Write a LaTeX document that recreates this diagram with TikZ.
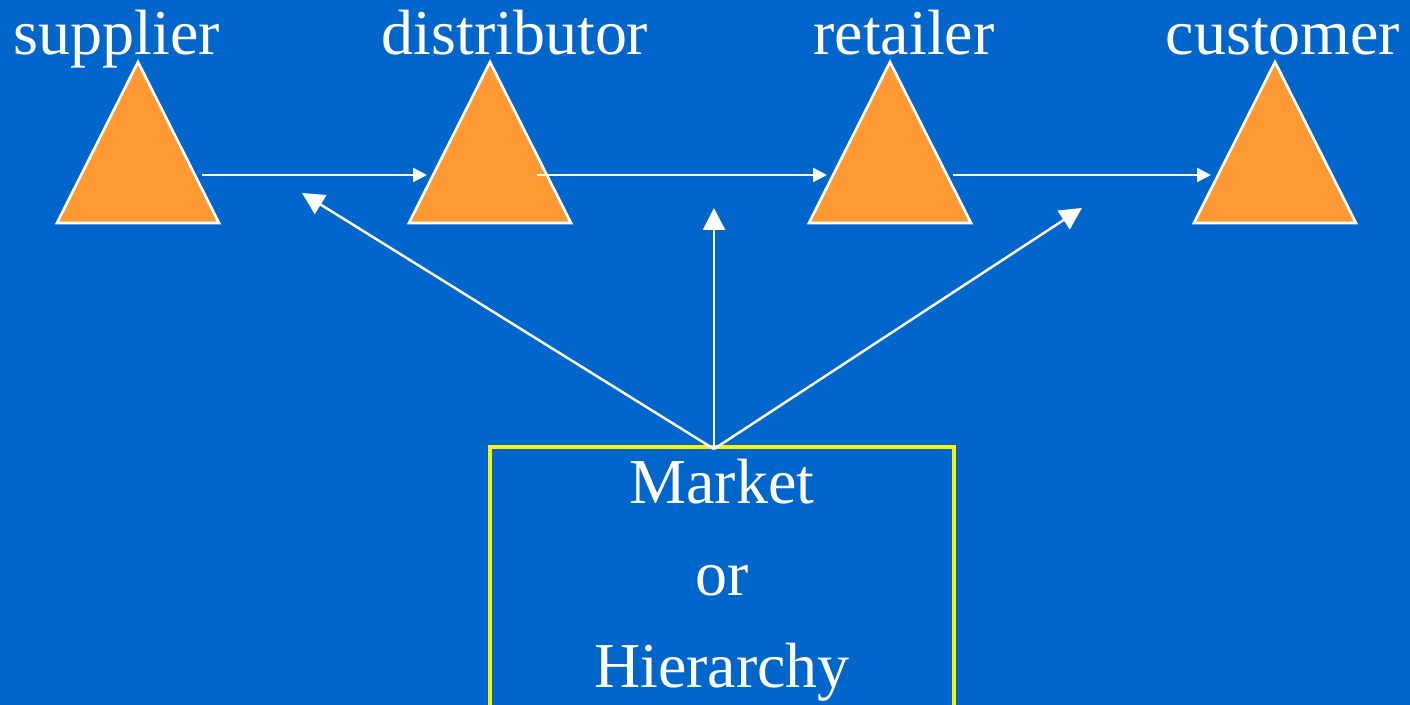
\documentclass[tikz,border=0pt]{standalone}
\usepackage{fontspec}
\setmainfont{Liberation Serif}
\usetikzlibrary{arrows.meta}
\definecolor{fondo}{RGB}{0,102,204}
\definecolor{naranja}{RGB}{255,153,51}
\tikzset{
  eslabon/.style={fill=naranja, draw=white, line width=0.75pt},
  rotulo/.style={text=white, anchor=base, inner sep=0pt, font=\fontsize{18.2}{22}\selectfont},
  flujo/.style={white, line width=0.7pt, -{Triangle[length=0.14cm,width=0.14cm]}},
  control/.style={white, line width=0.7pt, -{Triangle[length=0.22cm,width=0.22cm]}},
  caja/.style={draw=yellow, line width=1pt, text=white, align=center,
    minimum width=4.64cm, minimum height=2.6cm,
    font=\fontsize{18.2}{26.2}\selectfont},
}
\begin{document}
\begin{tikzpicture}
  % Fondo
  \fill[fondo] (0,0) rectangle (14.1,7.05);
  \useasboundingbox (0,0) rectangle (14.1,7.05);

  % Eslabones de la cadena
  \filldraw[eslabon] (1.38,6.43) -- (0.57,4.82) -- (2.19,4.82) -- cycle;
  \filldraw[eslabon] (4.90,6.43) -- (4.09,4.82) -- (5.71,4.82) -- cycle;
  \filldraw[eslabon] (8.90,6.43) -- (8.09,4.82) -- (9.71,4.82) -- cycle;
  \filldraw[eslabon] (12.75,6.43) -- (11.94,4.82) -- (13.56,4.82) -- cycle;

  \node[rotulo] (supplier) at (1.17,6.50) {supplier};
  \node[rotulo] (distributor) at (5.15,6.50) {distributor};
  \node[rotulo] (retailer) at (9.04,6.50) {retailer};
  \node[rotulo] (customer) at (12.83,6.50) {customer};

  % Flechas entre eslabones
  \coordinate (s1) at (2.02,5.30);
  \coordinate (d0) at (4.27,5.30);
  \coordinate (d1) at (5.37,5.30);
  \coordinate (r0) at (8.27,5.30);
  \coordinate (r1) at (9.53,5.30);
  \coordinate (c0) at (12.11,5.30);
  \draw[flujo] (s1) -- (d0);
  \draw[flujo] (d1) -- (r0);
  \draw[flujo] (r1) -- (c0);

  % Mercado o jerarquia
  \node[caja] (mh) at (7.22,1.25) {Market\\or\\Hierarchy};
  \coordinate (hub) at (7.14,2.56);
  \coordinate (g1) at (3.02,5.12);
  \coordinate (g2) at (7.14,4.97);
  \coordinate (g3) at (10.82,4.97);
  \draw[control] (hub) -- (g1);
  \draw[control] (hub) -- (g2);
  \draw[control] (hub) -- (g3);
\end{tikzpicture}
\end{document}
